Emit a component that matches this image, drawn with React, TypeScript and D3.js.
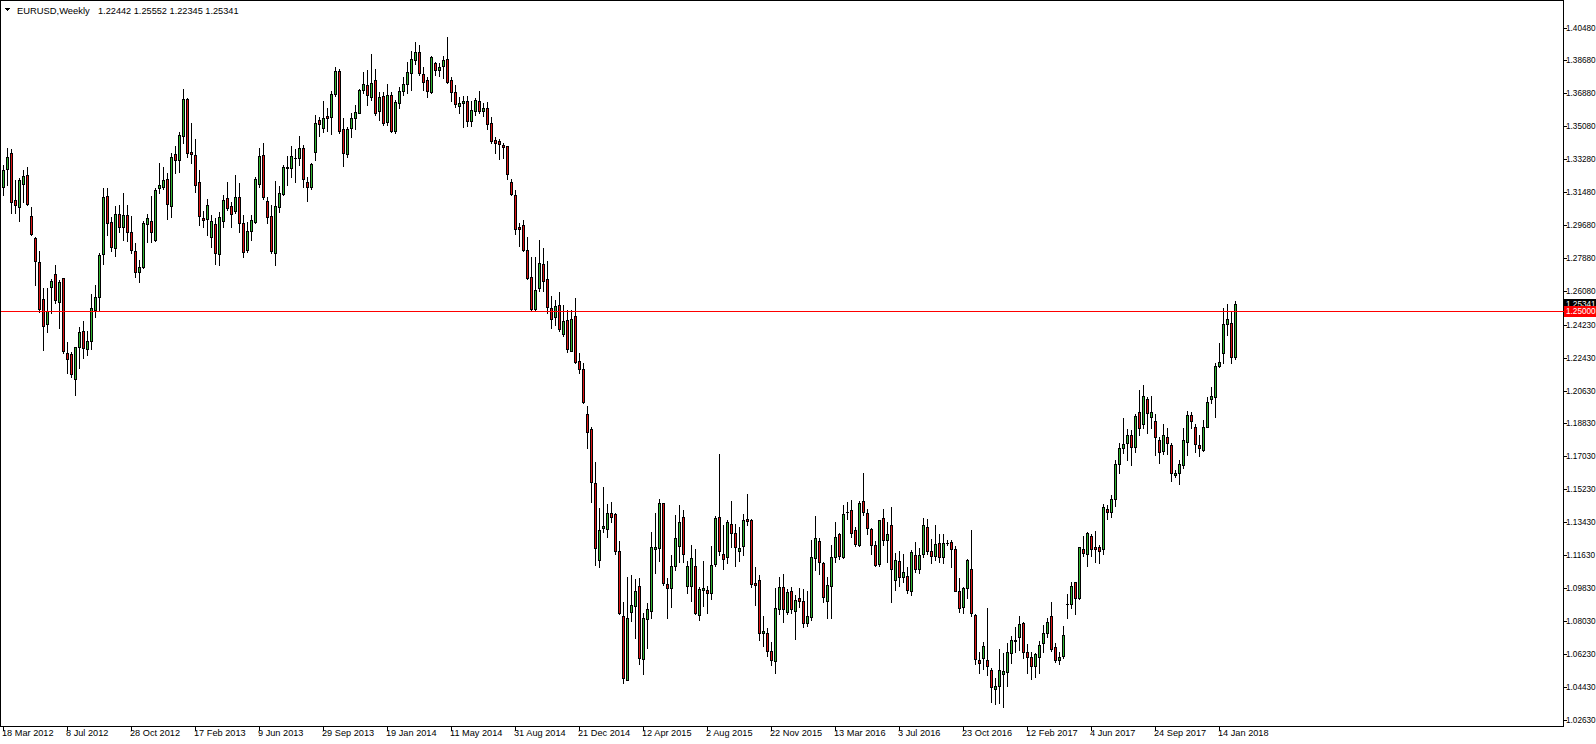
import React from 'react';
import * as d3 from 'd3';

const W = 1596;
const H = 744;

const symbolTitle = 'EURUSD,Weekly';
const lastQuote = ['1.22442', '1.25552', '1.22345', '1.25341'];

const dateLabels = ['18 Mar 2012', '8 Jul 2012', '28 Oct 2012', '17 Feb 2013', '9 Jun 2013', '29 Sep 2013', '19 Jan 2014', '11 May 2014', '31 Aug 2014', '21 Dec 2014', '12 Apr 2015', '2 Aug 2015', '22 Nov 2015', '13 Mar 2016', '3 Jul 2016', '23 Oct 2016', '12 Feb 2017', '4 Jun 2017', '24 Sep 2017', '14 Jan 2018'];
const dateLabelBars = [0, 16, 32, 48, 64, 80, 96, 112, 128, 144, 160, 176, 192, 208, 224, 240, 256, 272, 288, 304];

const priceTicks = ['1.40480', '1.38680', '1.36880', '1.35080', '1.33280', '1.31480', '1.29680', '1.27880', '1.26080', '1.24230', '1.22430', '1.20630', '1.18830', '1.17030', '1.15230', '1.13430', '1.11630', '1.09830', '1.08030', '1.06230', '1.04430', '1.02630'];

const levelLine = 1.25;
const bidPrice = 1.25341;

const open = [1.3178,1.3273,1.3360,1.3105,1.3068,1.3192,1.3242,1.3018,1.2896,1.2764,1.2562,1.2425,1.2631,1.2699,1.2549,1.2677,1.2267,1.2261,1.2125,1.2303,1.2391,1.2289,1.2336,1.2504,1.2576,1.2808,1.3127,1.2983,1.2844,1.3027,1.2956,1.3023,1.2928,1.2826,1.2713,1.2740,1.2972,1.2992,1.2886,1.3172,1.3178,1.3220,1.3072,1.3357,1.3324,1.3455,1.3656,1.3369,1.3351,1.3202,1.3008,1.3000,1.2901,1.2974,1.2808,1.2992,1.3114,1.3072,1.3047,1.3120,1.2978,1.2832,1.2937,1.2986,1.3192,1.3349,1.3100,1.3018,1.2817,1.3068,1.3138,1.3278,1.3278,1.3336,1.3333,1.3388,1.3205,1.3174,1.3366,1.3541,1.3497,1.3564,1.3557,1.3683,1.3810,1.3493,1.3357,1.3497,1.3552,1.3582,1.3706,1.3734,1.3670,1.3761,1.3593,1.3674,1.3533,1.3679,1.3484,1.3637,1.3703,1.3739,1.3801,1.3870,1.3912,1.3794,1.3761,1.3697,1.3852,1.3816,1.3839,1.3874,1.3761,1.3694,1.3621,1.3634,1.3646,1.3539,1.3593,1.3646,1.3593,1.3606,1.3524,1.3433,1.3428,1.3406,1.3400,1.3205,1.3132,1.2959,1.2968,1.2832,1.2686,1.2509,1.2622,1.2754,1.2673,1.2513,1.2464,1.2531,1.2371,1.2449,1.2281,1.2471,1.2225,1.2179,1.1933,1.1851,1.1556,1.1137,1.1310,1.1305,1.1392,1.1388,1.1186,1.0831,1.0481,1.0854,1.0885,1.0995,1.0594,1.0813,1.0860,1.1195,1.1201,1.1447,1.1006,1.0982,1.1104,1.1215,1.1370,1.0995,1.0995,1.1106,1.0836,1.0973,1.0973,1.0958,1.1113,1.1374,1.1168,1.1155,1.1332,1.1283,1.1188,1.1213,1.1361,1.1356,1.1010,1.1028,1.0736,1.0739,1.0641,1.0586,1.0867,1.0991,1.0854,1.0967,1.0860,1.0929,1.0913,1.0791,1.0827,1.1146,1.1241,1.1122,1.0914,1.0995,1.1152,1.1277,1.1155,1.1399,1.1410,1.1301,1.1219,1.1459,1.1392,1.1305,1.1219,1.1113,1.1365,1.1246,1.1328,1.1028,1.1131,1.1042,1.1048,1.0967,1.1164,1.1086,1.1170,1.1316,1.1186,1.1159,1.1228,1.1152,1.1232,1.1235,1.1197,1.0967,1.0878,1.0985,1.1086,1.0836,1.0590,1.0600,1.0590,1.0536,1.0432,1.0450,1.0512,1.0526,1.0627,1.0696,1.0714,1.0791,1.0632,1.0605,1.0559,1.0605,1.0681,1.0736,1.0831,1.0660,1.0590,1.0612,1.0896,1.0896,1.1015,1.0928,1.1195,1.1170,1.1270,1.1206,1.1206,1.1195,1.1414,1.1398,1.1469,1.1660,1.1748,1.1775,1.1820,1.1756,1.1944,1.1879,1.2017,1.1920,1.1897,1.1793,1.1734,1.1808,1.1766,1.1603,1.1611,1.1656,1.1784,1.1930,1.1866,1.1766,1.1738,1.1866,1.2015,1.2026,1.2198,1.2267,1.2425,1.2431,1.22442];

const high = [1.3296,1.3388,1.3382,1.3214,1.3224,1.3269,1.3284,1.3065,1.2904,1.2826,1.2622,1.2622,1.2672,1.2750,1.2668,1.2677,1.2330,1.2276,1.2303,1.2409,1.2445,1.2391,1.2591,1.2640,1.2817,1.3169,1.3169,1.3014,1.3072,1.3078,1.3142,1.3078,1.3019,1.2872,1.2777,1.2990,1.3027,1.3127,1.3169,1.3306,1.3284,1.3251,1.3364,1.3400,1.3478,1.3712,1.3661,1.3524,1.3437,1.3269,1.3045,1.3111,1.3023,1.3005,1.3041,1.3132,1.3205,1.3096,1.3242,1.3196,1.3023,1.2986,1.3023,1.3232,1.3388,1.3415,1.3123,1.3078,1.3211,1.3182,1.3296,1.3346,1.3400,1.3382,1.3455,1.3406,1.3232,1.3309,1.3570,1.3557,1.3646,1.3606,1.3701,1.3831,1.3820,1.3552,1.3506,1.3579,1.3624,1.3710,1.3806,1.3816,1.3903,1.3820,1.3697,1.3697,1.3739,1.3697,1.3652,1.3724,1.3779,1.3861,1.3921,1.3967,1.3952,1.3834,1.3779,1.3892,1.3861,1.3856,1.3892,1.3998,1.3776,1.3734,1.3670,1.3674,1.3674,1.3646,1.3661,1.3701,1.3637,1.3642,1.3557,1.3448,1.3437,1.3418,1.3400,1.3218,1.3160,1.2981,1.2995,1.2901,1.2792,1.2792,1.2886,1.2841,1.2773,1.2580,1.2558,1.2604,1.2531,1.2504,1.2504,1.2568,1.2270,1.2216,1.1979,1.1866,1.1674,1.1420,1.1534,1.1443,1.1452,1.1396,1.1241,1.0909,1.1046,1.1055,1.1033,1.1037,1.0846,1.0900,1.1288,1.1396,1.1470,1.1450,1.1037,1.1164,1.1383,1.1438,1.1410,1.1131,1.1219,1.1195,1.0988,1.1131,1.0995,1.1213,1.1377,1.1716,1.1328,1.1356,1.1459,1.1332,1.1316,1.1388,1.1498,1.1359,1.1100,1.1055,1.0831,1.0767,1.0690,1.0982,1.1046,1.1060,1.0977,1.0991,1.0946,1.0982,1.0977,1.0967,1.1246,1.1377,1.1259,1.1128,1.1046,1.1219,1.1346,1.1286,1.1438,1.1456,1.1465,1.1319,1.1461,1.1614,1.1414,1.1313,1.1241,1.1358,1.1414,1.1346,1.1428,1.1177,1.1188,1.1170,1.1097,1.1192,1.1237,1.1201,1.1365,1.1359,1.1250,1.1328,1.1279,1.1279,1.1246,1.1246,1.1215,1.1037,1.0991,1.1142,1.1301,1.0840,1.0636,1.0687,1.0876,1.0545,1.0490,1.0650,1.0627,1.0681,1.0721,1.0773,1.0831,1.0800,1.0676,1.0636,1.0630,1.0696,1.0782,1.0821,1.0909,1.0681,1.0636,1.0778,1.0951,1.1018,1.1018,1.1210,1.1268,1.1292,1.1279,1.1295,1.1219,1.1443,1.1438,1.1492,1.1684,1.1775,1.1915,1.1851,1.1848,1.1935,1.2066,1.2094,1.2026,1.2033,1.1933,1.1811,1.1880,1.1857,1.1775,1.1629,1.1684,1.1857,1.1953,1.1948,1.1880,1.1820,1.1902,1.2030,1.2084,1.2216,1.2322,1.2516,1.2536,1.2500,1.25552];

const low = [1.3132,1.3187,1.3036,1.3032,1.2992,1.3096,1.3078,1.2914,1.2640,1.2494,1.2285,1.2385,1.2489,1.2544,1.2404,1.2267,1.2158,1.2139,1.2039,1.2185,1.2240,1.2258,1.2290,1.2464,1.2504,1.2754,1.2914,1.2828,1.2799,1.2932,1.2886,1.2883,1.2817,1.2686,1.2658,1.2733,1.2877,1.2877,1.2883,1.3142,1.3164,1.3000,1.3014,1.3254,1.3260,1.3415,1.3342,1.3306,1.3147,1.2968,1.2956,1.2914,1.2846,1.2754,1.2748,1.2959,1.3050,1.2956,1.3032,1.2932,1.2795,1.2822,1.2886,1.2981,1.3178,1.3109,1.2981,1.2817,1.2750,1.3041,1.3132,1.3187,1.3232,1.3205,1.3296,1.3174,1.3101,1.3164,1.3324,1.3455,1.3478,1.3484,1.3466,1.3675,1.3473,1.3293,1.3342,1.3448,1.3492,1.3579,1.3688,1.3624,1.3652,1.3570,1.3542,1.3515,1.3515,1.3478,1.3473,1.3606,1.3679,1.3688,1.3706,1.3847,1.3788,1.3706,1.3670,1.3688,1.3788,1.3783,1.3770,1.3743,1.3648,1.3615,1.3582,1.3502,1.3510,1.3510,1.3570,1.3582,1.3564,1.3492,1.3418,1.3364,1.3329,1.3333,1.3218,1.3132,1.2918,1.2854,1.2826,1.2672,1.2500,1.2504,1.2608,1.2609,1.2486,1.2405,1.2422,1.2389,1.2362,1.2276,1.2280,1.2216,1.2161,1.1997,1.1751,1.1456,1.1110,1.1097,1.1292,1.1264,1.1346,1.1170,1.0840,1.0463,1.0478,1.0803,1.0712,1.0567,1.0514,1.0657,1.0818,1.1064,1.1131,1.1000,1.0818,1.0882,1.1082,1.1128,1.1128,1.0955,1.0913,1.0840,1.0809,1.0885,1.0846,1.0922,1.1104,1.1164,1.1086,1.1119,1.1206,1.1104,1.1133,1.1164,1.1328,1.0991,1.0891,1.0700,1.0667,1.0612,1.0563,1.0521,1.0841,1.0800,1.0841,1.0846,1.0705,1.0882,1.0772,1.0778,1.0809,1.1082,1.1060,1.0909,1.0821,1.0821,1.1128,1.1141,1.1146,1.1359,1.1264,1.1213,1.1215,1.1383,1.1279,1.1170,1.1104,1.1106,1.1219,1.1128,1.0909,1.0973,1.0995,1.1018,1.0955,1.0946,1.1073,1.1067,1.1152,1.1170,1.1122,1.1137,1.1128,1.1119,1.1219,1.1097,1.0967,1.0854,1.0849,1.0931,1.0831,1.0568,1.0518,1.0539,1.0508,1.0362,1.0350,1.0357,1.0335,1.0450,1.0575,1.0636,1.0645,1.0603,1.0518,1.0486,1.0496,1.0521,1.0636,1.0718,1.0641,1.0581,1.0568,1.0600,1.0818,1.0873,1.0840,1.0922,1.1159,1.1106,1.1159,1.1128,1.1119,1.1170,1.1359,1.1370,1.1432,1.1611,1.1720,1.1684,1.1656,1.1729,1.1820,1.1857,1.1833,1.1857,1.1711,1.1669,1.1716,1.1716,1.1570,1.1592,1.1551,1.1638,1.1711,1.1857,1.1729,1.1707,1.1734,1.1862,1.1994,1.1917,1.2190,1.2212,1.2367,1.2212,1.22345];

const close = [1.3269,1.3338,1.3096,1.3076,1.3214,1.3236,1.3083,1.2919,1.2773,1.2507,1.2418,1.2500,1.2662,1.2558,1.2655,1.2281,1.2237,1.2154,1.2300,1.2383,1.2294,1.2334,1.2513,1.2576,1.2804,1.3120,1.2981,1.2850,1.3027,1.2956,1.3023,1.2932,1.2832,1.2710,1.2737,1.2978,1.3005,1.2928,1.3160,1.3187,1.3214,1.3082,1.3338,1.3324,1.3460,1.3656,1.3364,1.3357,1.3187,1.3019,1.2996,1.3078,1.2990,1.2817,1.3014,1.3105,1.3060,1.3029,1.3120,1.2981,1.2822,1.2936,1.2996,1.3218,1.3346,1.3123,1.3014,1.2828,1.3072,1.3142,1.3284,1.3287,1.3346,1.3337,1.3388,1.3218,1.3174,1.3300,1.3524,1.3519,1.3552,1.3552,1.3683,1.3810,1.3484,1.3360,1.3493,1.3552,1.3588,1.3706,1.3739,1.3679,1.3746,1.3582,1.3670,1.3528,1.3679,1.3482,1.3642,1.3703,1.3739,1.3803,1.3874,1.3912,1.3798,1.3752,1.3703,1.3885,1.3816,1.3834,1.3870,1.3752,1.3697,1.3628,1.3637,1.3648,1.3539,1.3597,1.3652,1.3593,1.3606,1.3521,1.3429,1.3418,1.3411,1.3396,1.3246,1.3138,1.2946,1.2945,1.2832,1.2677,1.2509,1.2613,1.2759,1.2664,1.2522,1.2453,1.2525,1.2400,1.2443,1.2289,1.2453,1.2221,1.2179,1.2002,1.1838,1.1565,1.1204,1.1301,1.1323,1.1396,1.1374,1.1188,1.0849,1.0493,1.0818,1.0891,1.0967,1.0603,1.0818,1.0867,1.1210,1.1210,1.1447,1.1010,1.0982,1.1106,1.1256,1.1343,1.1168,1.1104,1.1146,1.0846,1.0977,1.0982,1.0955,1.1110,1.1365,1.1186,1.1141,1.1343,1.1283,1.1206,1.1201,1.1356,1.1352,1.1006,1.1002,1.0739,1.0749,1.0641,1.0590,1.0873,1.0991,1.0869,1.0960,1.0867,1.0918,1.0914,1.0794,1.0831,1.1155,1.1256,1.1128,1.0936,1.1000,1.1152,1.1264,1.1160,1.1388,1.1400,1.1283,1.1223,1.1447,1.1401,1.1310,1.1219,1.1110,1.1356,1.1246,1.1277,1.1086,1.1137,1.1046,1.1070,1.0973,1.1182,1.1086,1.1164,1.1328,1.1188,1.1159,1.1224,1.1152,1.1228,1.1231,1.1195,1.0969,1.0876,1.0985,1.1137,1.0846,1.0594,1.0575,1.0667,1.0557,1.0444,1.0448,1.0536,1.0530,1.0636,1.0700,1.0697,1.0785,1.0636,1.0608,1.0557,1.0623,1.0672,1.0736,1.0796,1.0649,1.0590,1.0608,1.0727,1.0897,1.0996,1.0928,1.1206,1.1177,1.1283,1.1195,1.1195,1.1188,1.1425,1.1398,1.1469,1.1662,1.1748,1.1771,1.1820,1.1756,1.1924,1.1857,1.2033,1.1942,1.1948,1.1811,1.1729,1.1820,1.1775,1.1611,1.1611,1.1662,1.1793,1.1930,1.1897,1.1771,1.1748,1.1866,1.1999,1.2033,1.2198,1.2221,1.2425,1.2453,1.2248,1.25341];

const BULL = '#32b432';
const BEAR = '#dc1414';
const FONT = '"Liberation Sans", Arial, sans-serif';

export default function App() {
  const n = open.length;
  const plotRight = 1563.5;
  const plotBottom = 726.5;
  const x = d3.scaleLinear().domain([0, n - 1]).range([3.5, 3.5 + 4 * (n - 1)]);
  const y = d3.scaleLinear().domain([1.0263, 1.4048]).range([719.8, 27.5]);
  const px = (v: number) => Math.round(y(v));

  const candles = d3.range(n).map((i) => {
    const cx = Math.floor(x(i)) + 0.5;
    const o = open[i], c = close[i];
    const yo = px(o), yc = px(c), yh = px(high[i]), yl = px(low[i]);
    const top = Math.min(yo, yc), bot = Math.max(yo, yc);
    const col = c > o ? BULL : BEAR;
    return (
      <g key={i}>
        <line x1={cx} x2={cx} y1={yh} y2={yl + 1} stroke="#000" strokeWidth={1} />
        {bot - top >= 1 ? (
          <rect x={cx - 1} y={top + 0.5} width={2} height={bot - top} fill={col} stroke="#000" strokeWidth={1} />
        ) : (
          <line x1={cx - 1.5} x2={cx + 1.5} y1={top + 0.5} y2={top + 0.5} stroke="#000" strokeWidth={1} />
        )}
      </g>
    );
  });

  const ly = Math.round(y(levelLine)) + 0.5;
  const by = Math.round(y(bidPrice)) + 0.5;
  const labelX = 1566;
  const labelSize = 8.2;

  return (
    <svg width={W} height={H} style={{ position: 'fixed', left: 0, top: 0, background: '#fff' }} shapeRendering="crispEdges">
      <rect x={0} y={0} width={W} height={H} fill="#fff" />
      {/* frame */}
      <line x1={0.5} x2={0.5} y1={0} y2={plotBottom} stroke="#000" />
      <line x1={0} x2={plotRight} y1={0.5} y2={0.5} stroke="#000" />
      <line x1={plotRight} x2={plotRight} y1={0} y2={plotBottom} stroke="#000" />
      <line x1={0} x2={plotRight} y1={plotBottom} y2={plotBottom} stroke="#000" />

      {candles}

      {/* horizontal level */}
      <line x1={1} x2={plotRight} y1={ly} y2={ly} stroke="#ff0000" strokeWidth={1} />

      {/* price axis */}
      <g fontFamily={FONT} fontSize={labelSize} fill="#000">
        {priceTicks.map((t) => {
          const ty = Math.round(y(+t)) + 0.5;
          return (
            <g key={t}>
              <line x1={plotRight} x2={plotRight + 3} y1={ty} y2={ty} stroke="#000" />
              <text x={labelX} y={ty} dominantBaseline="central" shapeRendering="auto">{t}</text>
            </g>
          );
        })}
      </g>
      <rect x={1564} y={by - 6} width={32} height={11} fill="#000" />
      <text x={labelX} y={by - 0.5} dominantBaseline="central" fontFamily={FONT} fontSize={labelSize} fill="#fff">{bidPrice.toFixed(5)}</text>
      <rect x={1564} y={ly - 5.5} width={32} height={11} fill="#ff0000" />
      <text x={labelX} y={ly} dominantBaseline="central" fontFamily={FONT} fontSize={labelSize} fill="#fff">{levelLine.toFixed(5)}</text>

      {/* time axis */}
      <g fontFamily={FONT} fontSize={9.2} fill="#000">
        {dateLabels.map((d, k) => {
          const tx = Math.floor(x(dateLabelBars[k])) + 0.5;
          return (
            <g key={d}>
              <line x1={tx} x2={tx} y1={plotBottom} y2={plotBottom + 4} stroke="#000" />
              <text x={tx - 1.5} y={736}>{d}</text>
            </g>
          );
        })}
      </g>

      {/* header */}
      <path d="M4,8 L10,8 L7,11 Z" fill="#000" />
      <text x={17} y={14} fontFamily={FONT} fontSize={9.4} fill="#000">{symbolTitle}</text>
      <text x={98} y={14} fontFamily={FONT} fontSize={9.2} fill="#000">{lastQuote.join(' ')}</text>
    </svg>
  );
}
